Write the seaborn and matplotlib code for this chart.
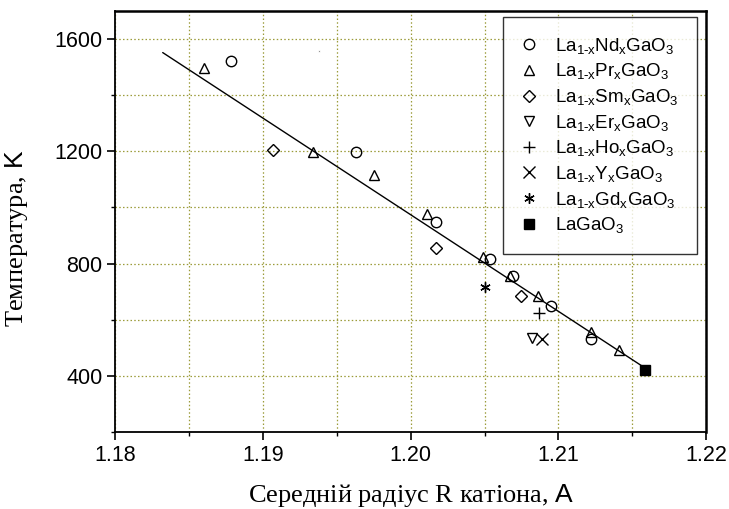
import matplotlib
matplotlib.use("Agg")
import matplotlib.pyplot as plt
import seaborn as sns
from matplotlib.ticker import MultipleLocator

# data
nd_x = [1.1878, 1.1963, 1.2017, 1.2054, 1.2069, 1.2095, 1.2122]
nd_y = [1522, 1196, 947, 816, 757, 649, 530]

pr_x = [1.1860, 1.1934, 1.1975, 1.2011, 1.2049, 1.2067, 1.2086, 1.2122, 1.2141]
pr_y = [1496, 1198, 1114, 977, 825, 757, 685, 557, 491]

sm_x = [1.1907, 1.2017, 1.2075]
sm_y = [1204, 854, 683]

er_x = [1.2082]
er_y = [534]

ho_x = [1.2087]
ho_y = [625]

y_x = [1.2089]
y_y = [530]

gd_x = [1.2050]
gd_y = [715]

la_x = [1.2159]
la_y = [420]

dot_x = [1.1938]
dot_y = [1559]

fit_x = [1.1832, 1.2157]
fit_y = [1552, 434]

series = [
    (nd_x, nd_y, "o", r"La$_{1\text{-}x}$Nd$_x$GaO$_3$"),
    (pr_x, pr_y, "^", r"La$_{1\text{-}x}$Pr$_x$GaO$_3$"),
    (sm_x, sm_y, "D", r"La$_{1\text{-}x}$Sm$_x$GaO$_3$"),
    (er_x, er_y, "v", r"La$_{1\text{-}x}$Er$_x$GaO$_3$"),
    (ho_x, ho_y, "+", r"La$_{1\text{-}x}$Ho$_x$GaO$_3$"),
    (y_x, y_y, "x", r"La$_{1\text{-}x}$Y$_x$GaO$_3$"),
    (gd_x, gd_y, (6, 2, 0), r"La$_{1\text{-}x}$Gd$_x$GaO$_3$"),
    (la_x, la_y, "s", r"LaGaO$_3$"),
]

sns.set_style("white")
plt.rcParams["font.family"] = ["Liberation Sans", "DejaVu Sans"]
plt.rcParams["mathtext.fontset"] = "custom"
plt.rcParams["mathtext.rm"] = "Liberation Serif"
plt.rcParams["mathtext.sf"] = "Liberation Sans"
plt.rcParams["mathtext.default"] = "regular"
plt.rcParams["text.color"] = "black"
plt.rcParams["axes.labelcolor"] = "black"
plt.rcParams["xtick.color"] = "black"
plt.rcParams["ytick.color"] = "black"

fig = plt.figure(figsize=(7.29, 5.09), dpi=100)
ax = fig.add_axes([0.1584, 0.1513, 0.810, 0.827])

grid_c = "#9c9c3a"
ax.grid(True, which="both", color=grid_c, linestyle=(0, (1.2, 1.8)), linewidth=0.9)
ax.set_axisbelow(True)

sns.lineplot(x=fit_x, y=fit_y, color="black", linewidth=1.0, ax=ax, sort=False)

for xs, ys, mk, lab in series:
    size = 7.5
    if mk == "D":
        size = 6.0
    if mk in ("+", "x"):
        size = 8.0
    fill = "black" if mk == "s" else "none"
    sns.lineplot(x=xs, y=ys, marker=mk, linestyle="", color="black",
                 markerfacecolor=fill, markeredgecolor="black",
                 markeredgewidth=1.0, markersize=size, label=lab,
                 ax=ax, sort=False)

sns.lineplot(x=dot_x, y=dot_y, marker="o", linestyle="", color="black",
             markersize=1.3, ax=ax, sort=False)

ax.set_xlim(1.18, 1.22)
ax.set_ylim(200, 1700)
ax.xaxis.set_major_locator(MultipleLocator(0.01))
ax.xaxis.set_minor_locator(MultipleLocator(0.005))
ax.yaxis.set_major_locator(MultipleLocator(400))
ax.yaxis.set_minor_locator(MultipleLocator(200))
ax.set_xticklabels([f"{v:.2f}" for v in ax.get_xticks()])
ax.tick_params(which="major", direction="out", length=6, width=1.2,
               labelsize=15.5, bottom=True, left=True, color="black",
               labelcolor="black")
ax.tick_params(which="minor", direction="out", length=3, width=1.0,
               bottom=True, left=True, color="black")

for s in ax.spines.values():
    s.set_color("black")
    s.set_linewidth(1.3)
ax.spines["right"].set_linewidth(1.8)
ax.spines["top"].set_linewidth(1.8)

ax.set_xlabel(r"Середній радіус R катіона, $\mathsf{A}$",
              fontfamily="Liberation Serif", fontsize=19, color="black")
ax.set_ylabel(r"Температура, $\mathsf{K}$",
              fontfamily="Liberation Serif", fontsize=19, color="black")
ax.xaxis.set_label_coords(0.5, -0.119)
ax.yaxis.set_label_coords(-0.145, 0.461)

leg = ax.legend(loc="upper right", bbox_to_anchor=(0.9848, 0.9857),
                borderaxespad=0, fontsize=13.5, frameon=True, fancybox=False,
                edgecolor="black", handlelength=0.75, handletextpad=1.0,
                labelspacing=0.3, borderpad=1.0)
leg.get_frame().set_linewidth(1.0)
for t in leg.get_texts():
    t.set_color("black")

fig.savefig("out.png", dpi=100)
